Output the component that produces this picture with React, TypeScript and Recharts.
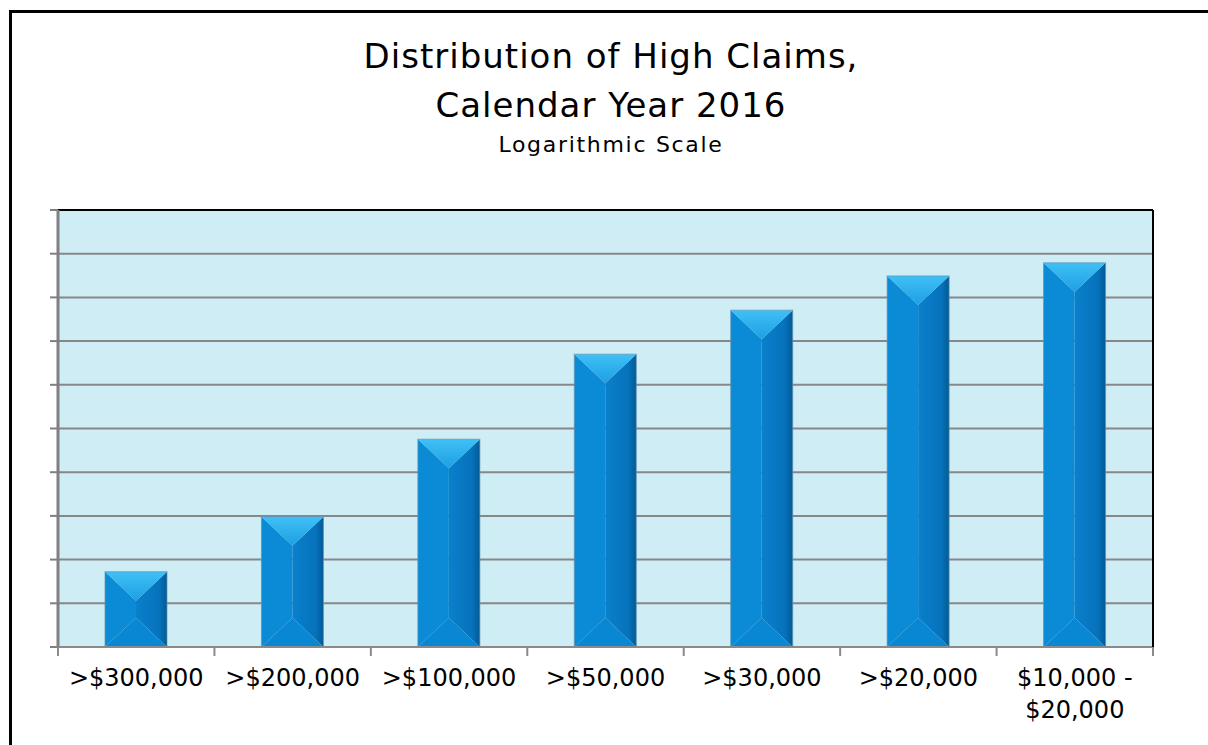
import React from 'react';
import { BarChart, Bar, XAxis, YAxis, CartesianGrid, ReferenceLine } from 'recharts';

const categories = ['>$300,000', '>$200,000', '>$100,000', '>$50,000', '>$30,000', '>$20,000', '$10,000 -\n$20,000'];
const claimCounts = [3.3, 7.9, 27, 104, 209, 360, 443];
const logTicks = [1, 2, 4, 8, 16, 32, 64, 128, 256, 512, 1024];

const data = categories.map((name, i) => ({ name, claims: claimCounts[i] }));

const FONT = '"DejaVu Sans", sans-serif';
const AXIS_LEFT = 58;
const AXIS_RIGHT = 55;
const HALF_BAND = (1208 - AXIS_LEFT - AXIS_RIGHT) / categories.length / 2;

// label plus tick marks on the category boundaries (excel style)
const CategoryTick = ({ x, y, payload, index }: any) => {
    const lines = String(payload.value).split('\n');
    const last = index === categories.length - 1;
    return (
        <g>
            <line x1={x - HALF_BAND} y1={y - 9} x2={x - HALF_BAND} y2={y} stroke="#8a8a8a" strokeWidth={2} />
            {last && <line x1={x + HALF_BAND} y1={y - 9} x2={x + HALF_BAND} y2={y} stroke="#8a8a8a" strokeWidth={2} />}
            <text x={x} y={y} textAnchor="middle" fontFamily={FONT} fontSize={24} fill="#000">
                {lines.map((line, i) => (
                    <tspan key={i} x={x} dy={i === 0 ? 30 : 32}>{line}</tspan>
                ))}
            </text>
        </g>
    );
};

const NoLabel = () => <g />;

// bevelled bar, like the old office 3D-ish look
const BevelBar = (props: any) => {
    const { x, y, width: w, height: h, index } = props;
    if (!h || h <= 0) return null;
    const d = Math.min(w * 0.47, h / 2);
    const cx = x + w / 2;
    const topId = `bar-top-${index}`;
    const rightId = `bar-right-${index}`;
    return (
        <g>
            <defs>
                <linearGradient id={topId} x1="0" y1="0" x2="0" y2="1">
                    <stop offset="0%" stopColor="#40c0f5" />
                    <stop offset="100%" stopColor="#1c9fe4" />
                </linearGradient>
                <linearGradient id={rightId} x1="0" y1="0" x2="1" y2="0">
                    <stop offset="0%" stopColor="#0a80cc" />
                    <stop offset="75%" stopColor="#0672bb" />
                    <stop offset="100%" stopColor="#045a94" />
                </linearGradient>
            </defs>
            <polygon points={`${x},${y} ${cx},${y + d} ${cx},${y + h - d} ${x},${y + h}`} fill="#0b8bd6" />
            <polygon points={`${x + w},${y} ${cx},${y + d} ${cx},${y + h - d} ${x + w},${y + h}`} fill={`url(#${rightId})`} />
            <polygon points={`${x},${y + h} ${x + w},${y + h} ${cx},${y + h - d}`} fill="#0987d2" />
            <polygon points={`${x},${y} ${x + w},${y} ${cx},${y + d}`} fill={`url(#${topId})`} />
            <rect x={x} y={y} width={w} height={h} fill="none" stroke="#5f93b5" strokeWidth={1} strokeOpacity={0.7} />
        </g>
    );
};

export default function App() {
    return (
        <div style={{ position: 'absolute', left: 0, top: 0, width: 1208, height: 745, background: '#fff' }}>
            <BarChart
                width={1208}
                height={745}
                data={data}
                margin={{ top: 210, right: 0, left: 0, bottom: 0 }}
            >
                <CartesianGrid vertical={false} stroke="#878787" strokeWidth={2} fill="#ceedf4" fillOpacity={1} />
                <XAxis
                    dataKey="name"
                    height={98}
                    interval={0}
                    tickSize={9}
                    tickMargin={0}
                    tickLine={false}
                    axisLine={{ stroke: '#8a8a8a', strokeWidth: 2 }}
                    tick={<CategoryTick />}
                />
                <YAxis
                    type="number"
                    scale="log"
                    domain={[1, 1024]}
                    ticks={logTicks}
                    allowDataOverflow
                    interval={0}
                    width={AXIS_LEFT}
                    tick={NoLabel}
                    tickSize={8}
                    axisLine={{ stroke: '#808080', strokeWidth: 3 }}
                    tickLine={{ stroke: '#808080', strokeWidth: 2 }}
                />
                <YAxis
                    yAxisId="right"
                    orientation="right"
                    width={AXIS_RIGHT}
                    domain={[0, 1]}
                    tick={NoLabel}
                    tickLine={false}
                    axisLine={{ stroke: '#000', strokeWidth: 2 }}
                />
                <ReferenceLine y={1024} stroke="#000" strokeWidth={2} />
                <Bar dataKey="claims" barSize={62} shape={<BevelBar />} isAnimationActive={false} />
            </BarChart>
            <svg
                width={1208}
                height={745}
                style={{ position: 'absolute', left: 0, top: 0, pointerEvents: 'none' }}
            >
                <line x1={10.5} y1={10} x2={10.5} y2={745} stroke="#000" strokeWidth={3} />
                <line x1={9} y1={11.5} x2={1208} y2={11.5} stroke="#000" strokeWidth={3} />
                <g fontFamily={FONT} textAnchor="middle" fill="#000">
                    <text x={611} y={68} fontSize={34} letterSpacing={1}>Distribution of High Claims,</text>
                    <text x={611} y={117} fontSize={34} letterSpacing={1}>Calendar Year 2016</text>
                    <text x={611} y={152} fontSize={22} letterSpacing={1.7}>Logarithmic Scale</text>
                </g>
            </svg>
        </div>
    );
}
